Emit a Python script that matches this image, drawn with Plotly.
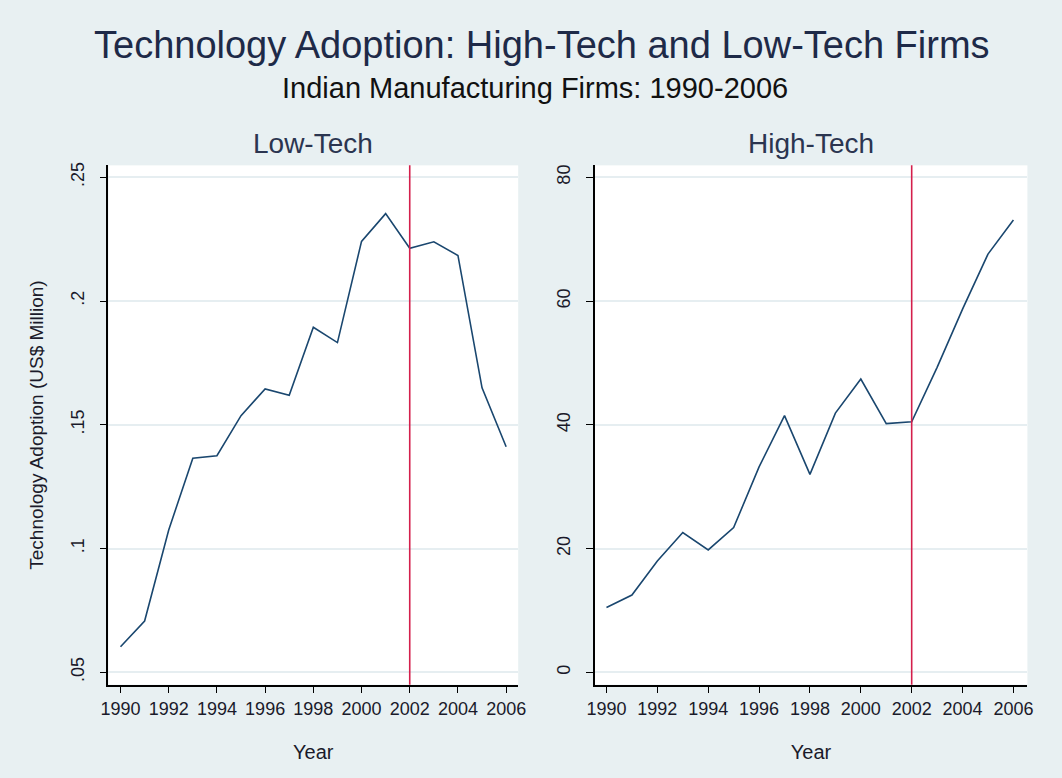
import plotly.graph_objects as go

years = list(range(1990, 2007))
low_tech = [0.0603, 0.0707, 0.1075, 0.1365, 0.1375, 0.1537, 0.1645, 0.1619,
            0.1894, 0.1832, 0.2241, 0.2353, 0.2213, 0.2239, 0.2184, 0.1649, 0.1411]
high_tech = [10.5, 12.5, 18.0, 22.6, 19.8, 23.4, 33.2, 41.5,
             32.0, 41.9, 47.4, 40.2, 40.5, 49.3, 58.7, 67.6, 73.1]
policy_year = 2002

x_ticks = list(range(1990, 2007, 2))
low_yticks = [0.05, 0.10, 0.15, 0.20, 0.25]
low_yticktext = [".05", ".1", ".15", ".2", ".25"]
high_yticks = [0, 20, 40, 60, 80]
high_yticktext = ["0", "20", "40", "60", "80"]

BG = "#E8F0F2"
NAVY = "#1A476F"
RED = "#D41F4C"
FONT = "Liberation Sans, Arial, sans-serif"
W, H = 1062, 778

fig = go.Figure()
fig.add_trace(go.Scatter(x=years, y=low_tech, mode="lines",
                         line=dict(color=NAVY, width=1.6), xaxis="x", yaxis="y",
                         showlegend=False, name="Low-Tech"))
fig.add_trace(go.Scatter(x=years, y=high_tech, mode="lines",
                         line=dict(color=NAVY, width=1.6), xaxis="x2", yaxis="y2",
                         showlegend=False, name="High-Tech"))

def px_x(p):
    return p / W

def px_y(p):
    return 1 - p / H

ydom = [px_y(684.3), px_y(163)]

common_x = dict(
    tickmode="array", tickvals=x_ticks, ticks="outside", ticklen=7, tickwidth=1.3,
    tickcolor="black", showline=True, linecolor="black", linewidth=1.5,
    showgrid=False, zeroline=False,
    tickfont=dict(family=FONT, size=18, color="#1a1a2a"),
    title=dict(text="Year", font=dict(family=FONT, size=20, color="#1a1a2a"), standoff=27),
)
common_y = dict(
    tickmode="array", ticks="outside", ticklen=7, tickwidth=1.3,
    tickcolor="black", showline=True, linecolor="black", linewidth=1.5,
    showgrid=True, gridcolor="#E6EEF1", gridwidth=1.5, zeroline=False,
    tickangle=-90, ticklabelstandoff=9,
    tickfont=dict(family=FONT, size=18, color="#1a1a2a"),
)

fig.update_layout(
    width=W, height=H,
    paper_bgcolor=BG, plot_bgcolor="white",
    margin=dict(l=0, r=0, t=0, b=0),
    xaxis=dict(domain=[px_x(102), px_x(518)], range=[1989.5, 2006.5], anchor="y", **common_x),
    yaxis=dict(domain=ydom, range=[0.045, 0.2548], anchor="x",
               tickvals=low_yticks, ticktext=low_yticktext,
               title=dict(text="Technology Adoption (US$ Million)",
                          font=dict(family=FONT, size=19, color="#1a1a2a"), standoff=19),
               **common_y),
    xaxis2=dict(domain=[px_x(595.5), px_x(1035)], range=[1989.53, 2006.55], anchor="y2", **common_x),
    yaxis2=dict(domain=ydom, range=[-1.98, 81.93], anchor="x2",
                tickvals=high_yticks, ticktext=high_yticktext, **common_y),
    font=dict(family=FONT),
)

fig.add_vline(x=policy_year, line=dict(color=RED, width=1.6), xref="x", yref="y")
fig.add_shape(type="line", x0=policy_year, x1=policy_year, y0=0, y1=1,
              xref="x2", yref="y2 domain", line=dict(color=RED, width=1.6))

fig.add_annotation(text="Technology Adoption: High-Tech and Low-Tech Firms",
                   x=px_x(542), y=px_y(42), xref="paper", yref="paper",
                   xanchor="center", yanchor="middle", showarrow=False,
                   font=dict(family=FONT, size=38, color="#1E2A48"))
fig.add_annotation(text="Indian Manufacturing Firms: 1990-2006",
                   x=px_x(535), y=px_y(85), xref="paper", yref="paper",
                   xanchor="center", yanchor="middle", showarrow=False,
                   font=dict(family=FONT, size=29, color="#111111"))
fig.add_annotation(text="Low-Tech", x=px_x(310), y=px_y(141), xref="paper", yref="paper",
                   xanchor="center", yanchor="middle", showarrow=False,
                   font=dict(family=FONT, size=28, color="#2B3550"))
fig.add_annotation(text="High-Tech", x=px_x(815), y=px_y(141), xref="paper", yref="paper",
                   xanchor="center", yanchor="middle", showarrow=False,
                   font=dict(family=FONT, size=28, color="#2B3550"))

fig.write_html("out.html", config={"displayModeBar": False},
               post_script="document.body.style.margin='0px';document.body.style.padding='0px';")
